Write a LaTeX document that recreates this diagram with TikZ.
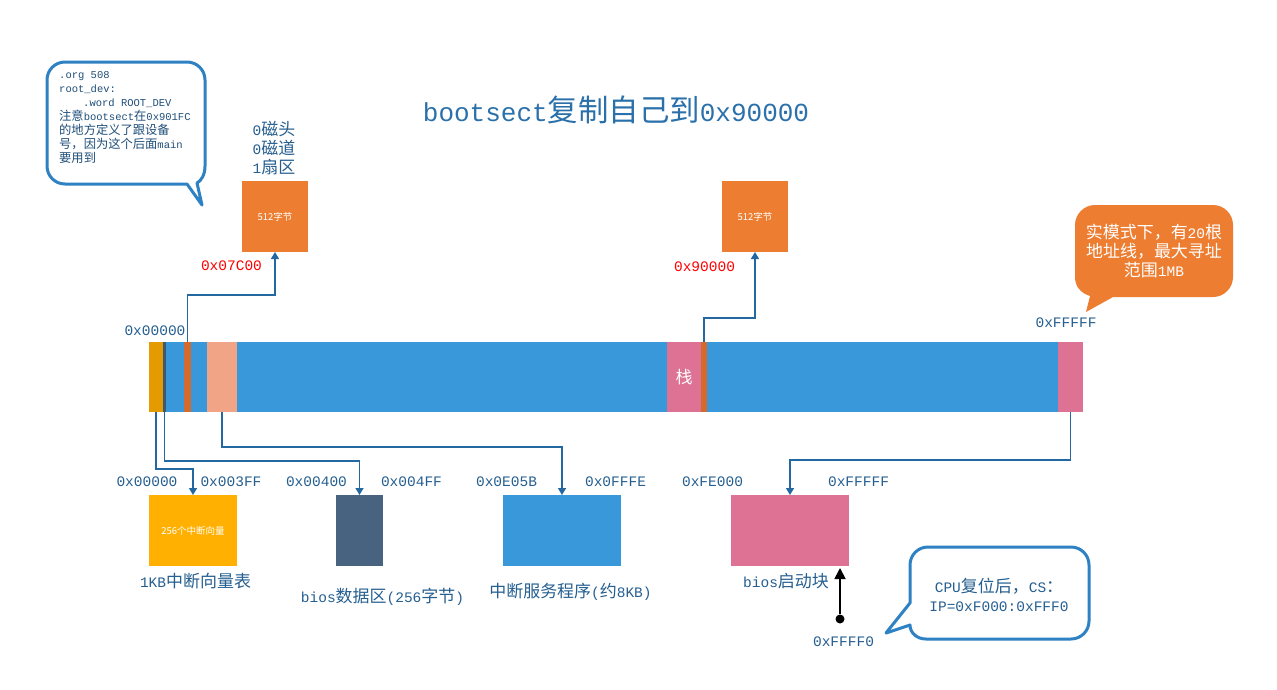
\documentclass[tikz,border=0pt]{standalone}
\usepackage{fontspec}
\setmainfont{Liberation Mono}
\newfontfamily\cjk[Scale=1.17]{Noto Sans CJK SC}
\newfontfamily\yh{Noto Sans CJK SC}
\usetikzlibrary{arrows.meta}
\definecolor{barblue}{HTML}{3898D9}
\definecolor{gold}{HTML}{E39B00}
\definecolor{slate}{HTML}{3F5873}
\definecolor{slatebox}{HTML}{48637F}
\definecolor{dorange}{HTML}{D46B2C}
\definecolor{salmon}{HTML}{F2A487}
\definecolor{pink}{HTML}{DE7295}
\definecolor{porange}{HTML}{ED7D31}
\definecolor{amber}{HTML}{FFB000}
\definecolor{lblue}{HTML}{255F90}
\definecolor{titc}{HTML}{2A70AA}
\definecolor{linec}{HTML}{2468A2}
\definecolor{cob}{HTML}{2E82C4}
\definecolor{navy}{HTML}{1F4E79}
\tikzset{
  seg/.style={inner sep=0, outer sep=0, minimum height=70, anchor=north west},
  blk/.style={inner sep=0, outer sep=0, anchor=north west, minimum height=71},
  conn/.style={draw=linec, line width=1.4, -{Triangle[width=8,length=7]}},
  hex/.style={text=lblue, font=\fontsize{14.5}{17}\selectfont, inner sep=0},
  lbl/.style={text=lblue, font=\fontsize{14.5}{19}\selectfont, inner sep=0, align=center},
  co/.style={draw=cob, line width=3, fill=white, line join=round},
}
\begin{document}
\begin{tikzpicture}[x=1pt,y=-1pt]
\useasboundingbox (0,0) rectangle (1277,689);
\fill[white] (0,0) rectangle (1277,689);

% title
\node[text=titc, font=\fontsize{26}{30}\selectfont] (title) at (616,110) {bootsect{\cjk 复制自己到}0x90000};

% memory bar
\node[seg, fill=gold, minimum width=14] (g) at (149,342) {};
\node[seg, fill=slate, minimum width=3] (s) at (163,342) {};
\node[seg, fill=barblue, minimum width=18] (b1) at (166,342) {};
\node[seg, fill=dorange, minimum width=7] (o1) at (184,342) {};
\node[seg, fill=barblue, minimum width=16] (b2) at (191,342) {};
\node[seg, fill=salmon, minimum width=30] (sa) at (207,342) {};
\node[seg, fill=barblue, minimum width=430] (b3) at (237,342) {};
\node[seg, fill=pink, minimum width=34, text=white, font=\fontsize{14.5}{17}\selectfont] (p1) at (667,342) {{\cjk 栈}};
\node[seg, fill=dorange, minimum width=6] (o2) at (701,342) {};
\node[seg, fill=barblue, minimum width=351] (b4) at (707,342) {};
\node[seg, fill=pink, minimum width=25] (p2) at (1058,342) {};

\node[hex] (a0) at (155,331) {0x00000};
\node[hex] (af) at (1066,323) {0xFFFFF};

% top boxes
\node[blk, fill=porange, minimum width=66, text=white, font=\yh\fontsize{9.5}{11}\selectfont] (box1) at (242,181) {512字节};
\node[blk, fill=porange, minimum width=66, text=white, font=\yh\fontsize{9.5}{11}\selectfont] (box2) at (722,181) {512字节};
\node[lbl] (chs) at (274,148) {0{\cjk 磁头}\\0{\cjk 磁道}\\1{\cjk 扇区}};
\node[hex, text=red] (a7c) at (231.5,266) {0x07C00};
\node[hex, text=red] (a9) at (704.5,267) {0x90000};

\draw[conn] (o1.north) -- ++(0,-47) -| (box1.south);
\draw[conn] (o2.north) -- ++(0,-24) -| (box2.south);

% bottom boxes
\node[blk, fill=amber, minimum width=88, text=white, font=\yh\fontsize{9.5}{11}\selectfont] (ivt) at (149,495) {256个中断向量};
\node[blk, fill=slatebox, minimum width=47] (bda) at (336,495) {};
\node[blk, fill=barblue, minimum width=118] (isr) at (503,495) {};
\node[blk, fill=pink, minimum width=118] (bb) at (731,495) {};

\draw[conn] (g.south) -- ++(0,57) -| (ivt.north);
\draw[conn] (s.south) -- ++(0,49) -| (bda.north);
\draw[conn] (sa.south) -- ++(0,35) -| (isr.north);
\draw[conn] (p2.south) -- ++(0,48) -| (bb.north);

\node[hex] (l1) at (147,482) {0x00000};
\node[hex] (l2) at (231,482) {0x003FF};
\node[hex] (l3) at (316.5,482) {0x00400};
\node[hex] (l4) at (411.5,482) {0x004FF};
\node[hex] (l5) at (506.5,482) {0x0E05B};
\node[hex] (l6) at (615.5,482) {0x0FFFE};
\node[hex] (l7) at (712.5,482) {0xFE000};
\node[hex] (l8) at (858.5,482) {0xFFFFF};

\node[lbl] (t1) at (195.5,581) {1KB{\cjk 中断向量表}};
\node[lbl] (t2) at (382.5,597) {bios{\cjk 数据区}(256{\cjk 字节})};
\node[lbl] (t3) at (570.5,592) {{\cjk 中断服务程序}({\cjk 约}8KB)};
\node[lbl] (t4) at (786,581) {bios{\cjk 启动块}};

% reset vector arrow
\node[circle, fill=black, inner sep=0, minimum size=9] (dot) at (840,619) {};
\coordinate (rtop) at (840,568);
\draw[line width=1.8, -{Triangle[width=11,length=11]}] (dot) -- (rtop);
\node[hex] (l9) at (843.5,642) {0xFFFF0};

% bottom callout
\draw[co] (928,547) -- (1071,547) .. controls (1081,547) and (1089,555) .. (1089,565)
  -- (1089,621) .. controls (1089,631) and (1081,639) .. (1071,639)
  -- (926,639) .. controls (917,639) and (910,633) .. (910,625)
  -- (886,633) -- (910,603) -- (910,565) .. controls (910,555) and (918,547) .. (928,547) -- cycle;
\node[lbl] (cpu) at (999,595) {CPU{\cjk 复位后，}CS{\cjk ：}\\IP=0xF000:0xFFF0};

% right orange callout
\fill[porange] (1095,205) -- (1213,205) .. controls (1224,205) and (1233,214) .. (1233,225)
  -- (1233,277) .. controls (1233,288) and (1224,297) .. (1213,297)
  -- (1113,297) -- (1086,312) -- (1090,296) .. controls (1081,293) and (1075,287) .. (1075,277)
  -- (1075,225) .. controls (1075,214) and (1084,205) .. (1095,205) -- cycle;
\node[lbl, text=white] (rm) at (1154,251) {{\cjk 实模式下，有}20{\cjk 根}\\{\cjk 地址线，最大寻址}\\{\cjk 范围}1MB};

% top-left callout
\draw[co] (65,62) -- (187,62) .. controls (197,62) and (205,70) .. (205,80)
  -- (205,166) .. controls (205,175) and (201,181) .. (197,183)
  -- (202,205) -- (187,184) -- (65,184) .. controls (55,184) and (47,176) .. (47,166)
  -- (47,80) .. controls (47,70) and (55,62) .. (65,62) -- cycle;
\node[text=navy, font=\fontsize{10.5}{14}\selectfont, inner sep=0, anchor=north west, align=left] (note) at (59,71)
  {.org 508\\root\_dev:\\\hspace*{24pt}.word ROOT\_DEV\\{\cjk 注意}bootsect{\cjk 在}0x901FC\\{\cjk 的地方定义了跟设备}\\{\cjk 号，因为这个后面}main\\{\cjk 要用到}};
\end{tikzpicture}
\end{document}
